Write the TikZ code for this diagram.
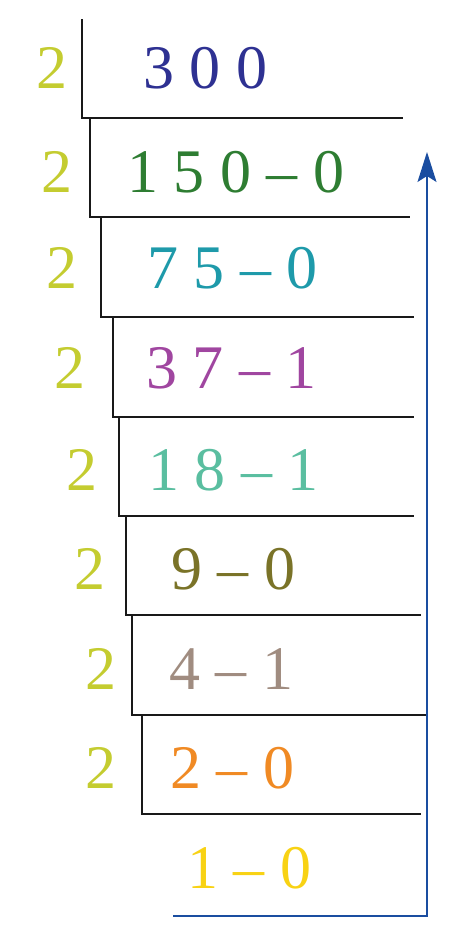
\documentclass[tikz,border=0pt]{standalone}
\usepackage{fontspec}
\setmainfont{Liberation Serif}
\usetikzlibrary{arrows.meta}

\definecolor{divcol}{RGB}{196,204,48}
\definecolor{qa}{RGB}{46,49,146}
\definecolor{qb}{RGB}{46,125,50}
\definecolor{qc}{RGB}{30,154,170}
\definecolor{qd}{RGB}{160,70,160}
\definecolor{qe}{RGB}{90,190,160}
\definecolor{qf}{RGB}{122,115,40}
\definecolor{qg}{RGB}{160,140,128}
\definecolor{qh}{RGB}{240,138,36}
\definecolor{qi}{RGB}{248,210,20}
\definecolor{backblue}{RGB}{26,77,160}

\tikzset{chiffre/.style = {anchor = base west, inner sep = 0pt,
                           font = \fontsize{62}{62}\selectfont},
         diviseur/.style = {chiffre, text = divcol},
         potence/.style = {line width = 1.6pt, black!90},
         retour/.style = {draw = backblue, line width = 1.4pt,
                          -{Stealth[length=30pt, width=19pt, inset=6pt]}}
        }

\begin{document}
\begin{tikzpicture}[x=1pt, y=-1pt]
  \useasboundingbox (0,0) rectangle (474,951);
  % divisions successives
  \foreach \i/\xd/\yb/\xq/\txt/\col/\xv/\yt/\yd/\xr in
     {1/36/88/143/{3 0 0}/qa/82/19/118/403,
      2/41/192/127/{1 5 0 – 0}/qb/90/118/217/410,
      3/46/288/147/{7 5 – 0}/qc/101/217/317/414,
      4/54/388/146/{3 7 – 1}/qd/113/317/417/414,
      5/66/490/148/{1 8 – 1}/qe/119/417/516/414,
      6/74/589/171/{9 – 0}/qf/126/516/615/421,
      7/85/689/169/{4 – 1}/qg/132/615/715/427,
      8/85/788/170/{2 – 0}/qh/142/715/814/421}
  {
    \node[diviseur] (d\i) at (\xd,\yb) {2};
    \node[chiffre, text = \col] (q\i) at (\xq,\yb) {\txt};
    \draw[potence] (\xv,\yt) -- (\xv,\yd) -- (\xr,\yd);
  }
  \node[chiffre, text = qi] (q9) at (187,888) {1 – 0};
  % lecture des restes
  \coordinate (depart) at (173,916);
  \coordinate (fin) at (427,152);
  \draw[retour] (depart) -| (fin);
\end{tikzpicture}
\end{document}
